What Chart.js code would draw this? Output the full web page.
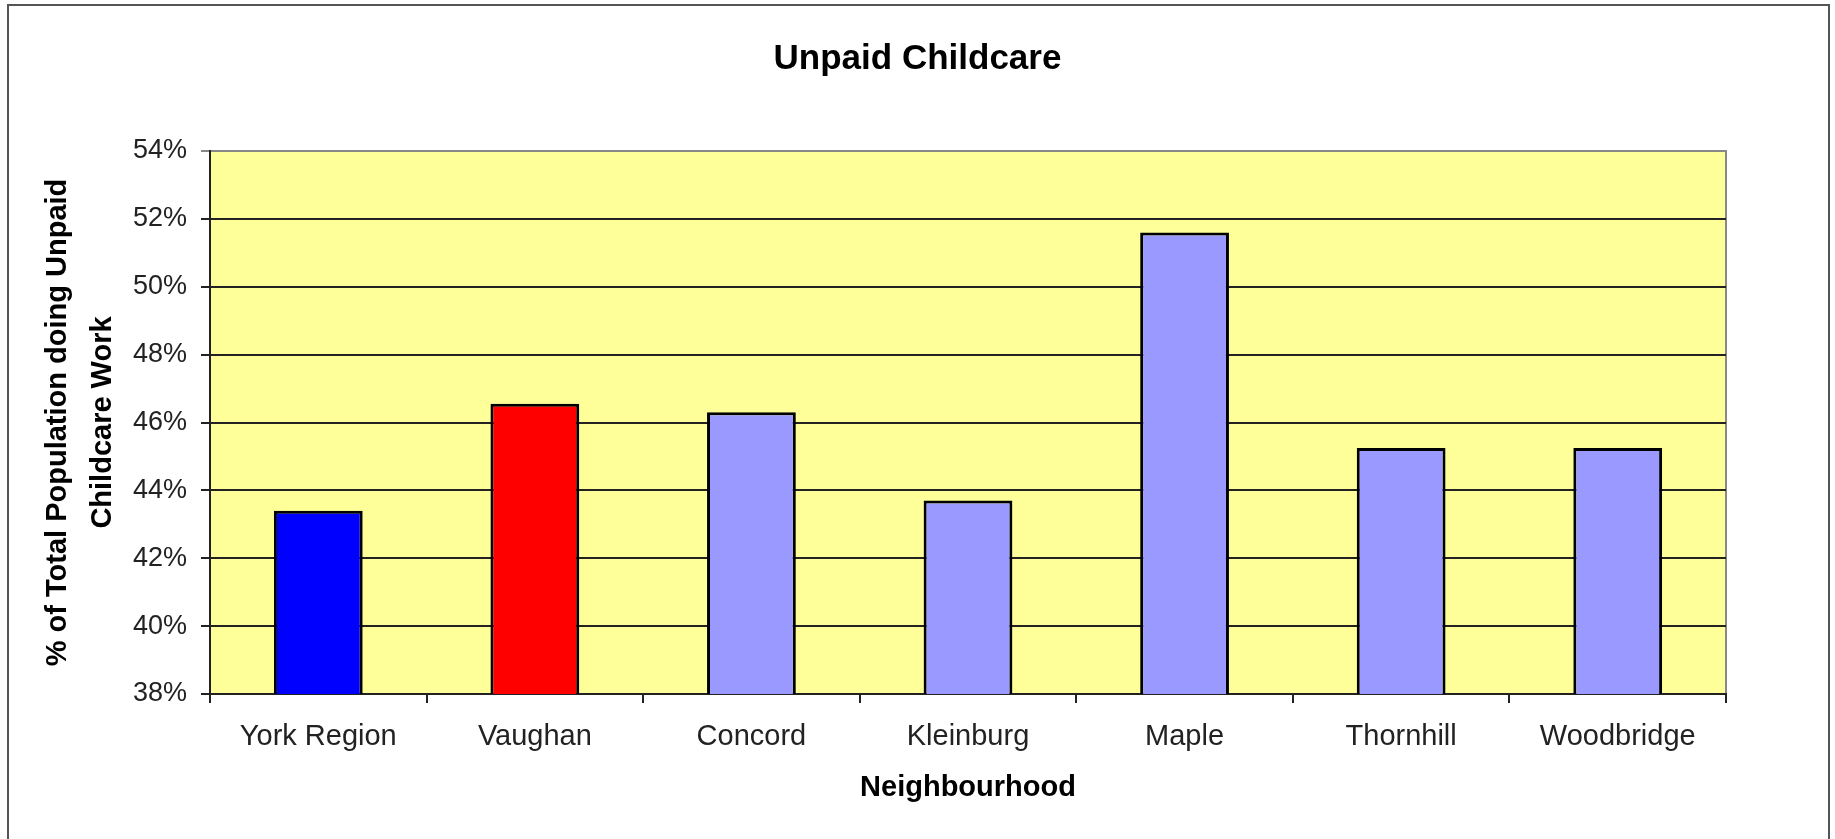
<!DOCTYPE html>
<html>
<head>
<meta charset="utf-8">
<title>Unpaid Childcare</title>
<script src="https://cdn.jsdelivr.net/npm/chart.js@4.4.1/dist/chart.umd.min.js"></script>
<style>
  html, body { margin: 0; padding: 0; background: #fff; overflow: hidden; }
  #frame { position: absolute; left: 7px; top: 4px; width: 1819px; height: 900px; border: 2px solid #555; }
  #wrap { position: absolute; left: 0; top: 0; width: 1835px; height: 839px; }
</style>
</head>
<body>
<div id="frame"></div>
<div id="wrap"><canvas id="chart"></canvas></div>
<script>
const neighbourhoods = ['York Region', 'Vaughan', 'Concord', 'Kleinburg', 'Maple', 'Thornhill', 'Woodbridge'];
const unpaidChildcarePct = [43.4, 46.55, 46.3, 43.7, 51.6, 45.25, 45.25];
const barColors = ['#0000ff', '#ff0000', '#9999ff', '#9999ff', '#9999ff', '#9999ff', '#9999ff'];
const yMin = 38, yMax = 54, yStep = 2;

const FONT = '"Liberation Sans", Arial, Helvetica, sans-serif';

// yellow plot area with grey frame
const plotBackground = {
  id: 'plotBackground',
  beforeDraw(chart) {
    const { ctx, chartArea: a } = chart;
    ctx.save();
    ctx.fillStyle = '#ffff99';
    ctx.fillRect(a.left, a.top, a.width, a.height);
    ctx.strokeStyle = '#888';
    ctx.lineWidth = 2;
    ctx.strokeRect(a.left, a.top, a.width, a.height);
    ctx.restore();
  }
};

new Chart(document.getElementById('chart'), {
  type: 'bar',
  data: {
    labels: neighbourhoods,
    datasets: [
      {
        label: 'Unpaid Childcare',
        data: unpaidChildcarePct,
        backgroundColor: barColors,
        borderColor: '#000',
        borderWidth: 3,
        borderSkipped: false,
        barPercentage: 0.41,
        categoryPercentage: 1
      }
    ]
  },
  options: {
    responsive: true,
    maintainAspectRatio: false,
    animation: false,
    layout: { padding: 0 },
    plugins: {
      legend: { display: false },
      tooltip: { enabled: false },
      title: {
        display: true,
        text: 'Unpaid Childcare',
        color: '#000',
        font: { family: FONT, size: 35, weight: 'bold' },
        padding: { top: 38, bottom: 71 }
      }
    },
    scales: {
      x: {
        grid: { drawOnChartArea: false, offset: true, tickLength: 9, color: '#222', lineWidth: 2 },
        border: { color: '#222', width: 2 },
        ticks: {
          color: '#222', padding: 17, maxRotation: 0, autoSkip: false,
          font: { family: FONT, size: 29 }
        },
        title: {
          display: true,
          text: 'Neighbourhood',
          color: '#000',
          font: { family: FONT, size: 29, weight: 'bold', lineHeight: 1.2 },
          padding: { top: 0, bottom: 34 }
        },
        afterFit(scale) { scale.height = 145; }
      },
      y: {
        min: yMin,
        max: yMax,
        grid: {
          color: ctx => (ctx.tick && ctx.tick.value === yMax ? '#888' : '#222'),
          lineWidth: 2,
          tickLength: 9
        },
        border: { color: '#222', width: 2 },
        ticks: {
          stepSize: yStep,
          color: '#222',
          padding: 14,
          font: { family: FONT, size: 27 },
          callback: v => v + '%'
        },
        title: {
          display: true,
          text: ['% of Total Population doing Unpaid', 'Childcare Work'],
          color: '#000',
          font: { family: FONT, size: 29, weight: 'bold', lineHeight: 1.55 },
          padding: { top: 36, bottom: 0 }
        },
        afterFit(scale) { scale.width = 210; }
      },
      // empty right-hand strip so the plot ends where the original does
      spacer: {
        type: 'linear',
        position: 'right',
        grid: { drawOnChartArea: false, drawTicks: false },
        border: { display: false },
        ticks: { display: false },
        afterFit(scale) { scale.width = 109; }
      }
    }
  },
  plugins: [plotBackground]
});
</script>
</body>
</html>
